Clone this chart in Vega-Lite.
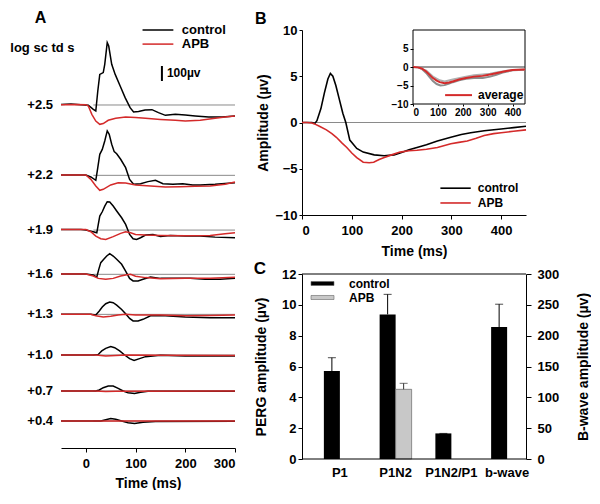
{
"$schema": "https://vega.github.io/schema/vega-lite/v6.json",
"background": "white",
"padding": {"left": 10, "top": 10, "right": 0, "bottom": 0},
"bounds": "flush",
"spacing": 67,
"config": {
  "view": {"stroke": null},
  "font": "Liberation Sans",
  "axis": {"grid": false, "domainColor": "#000", "tickColor": "#000", "labelColor": "#000", "titleColor": "#000", "labelFont": "Liberation Sans", "titleFont": "Liberation Sans", "labelFontSize": 13, "labelFontWeight": "bold", "titleFontSize": 14, "titleFontWeight": "bold", "domainWidth": 1, "tickWidth": 1, "labelOverlap": false},
  "text": {"font": "Liberation Sans", "fontWeight": "bold", "color": "#000"}
},
"datasets": {
  "levels": [
    {"level": "+2.5", "base": 2287}, {"level": "+2.2", "base": 1818}, {"level": "+1.9", "base": 1453}, {"level": "+1.6", "base": 1158},
    {"level": "+1.3", "base": 891}, {"level": "+1.0", "base": 620}, {"level": "+0.7", "base": 380}, {"level": "+0.4", "base": 180}
  ],
  "erg": [
    {"level":"+2.5","series":"control","t":-50,"uv":2291},{"level":"+2.5","series":"control","t":-30,"uv":2294},{"level":"+2.5","series":"control","t":-10,"uv":2289},{"level":"+2.5","series":"control","t":5,"uv":2285},{"level":"+2.5","series":"control","t":15,"uv":2258},{"level":"+2.5","series":"control","t":20,"uv":2247},{"level":"+2.5","series":"control","t":24,"uv":2380},{"level":"+2.5","series":"control","t":28,"uv":2491},{"level":"+2.5","series":"control","t":35,"uv":2503},{"level":"+2.5","series":"control","t":38,"uv":2558},{"level":"+2.5","series":"control","t":43,"uv":2703},{"level":"+2.5","series":"control","t":46,"uv":2680},{"level":"+2.5","series":"control","t":52,"uv":2558},{"level":"+2.5","series":"control","t":59,"uv":2491},{"level":"+2.5","series":"control","t":69,"uv":2414},{"level":"+2.5","series":"control","t":79,"uv":2336},{"level":"+2.5","series":"control","t":89,"uv":2269},{"level":"+2.5","series":"control","t":96,"uv":2240},{"level":"+2.5","series":"control","t":106,"uv":2243},{"level":"+2.5","series":"control","t":119,"uv":2254},{"level":"+2.5","series":"control","t":133,"uv":2256},{"level":"+2.5","series":"control","t":146,"uv":2236},{"level":"+2.5","series":"control","t":160,"uv":2218},{"level":"+2.5","series":"control","t":180,"uv":2225},{"level":"+2.5","series":"control","t":200,"uv":2220},{"level":"+2.5","series":"control","t":220,"uv":2214},{"level":"+2.5","series":"control","t":247,"uv":2207},{"level":"+2.5","series":"control","t":274,"uv":2207},{"level":"+2.5","series":"control","t":300,"uv":2214},
    {"level":"+2.5","series":"APB","t":-50,"uv":2289},{"level":"+2.5","series":"APB","t":-20,"uv":2290},{"level":"+2.5","series":"APB","t":0,"uv":2289},{"level":"+2.5","series":"APB","t":5,"uv":2280},{"level":"+2.5","series":"APB","t":12,"uv":2225},{"level":"+2.5","series":"APB","t":20,"uv":2180},{"level":"+2.5","series":"APB","t":28,"uv":2158},{"level":"+2.5","series":"APB","t":35,"uv":2163},{"level":"+2.5","series":"APB","t":45,"uv":2185},{"level":"+2.5","series":"APB","t":60,"uv":2198},{"level":"+2.5","series":"APB","t":80,"uv":2207},{"level":"+2.5","series":"APB","t":100,"uv":2203},{"level":"+2.5","series":"APB","t":120,"uv":2198},{"level":"+2.5","series":"APB","t":150,"uv":2191},{"level":"+2.5","series":"APB","t":180,"uv":2185},{"level":"+2.5","series":"APB","t":200,"uv":2180},{"level":"+2.5","series":"APB","t":230,"uv":2185},{"level":"+2.5","series":"APB","t":260,"uv":2198},{"level":"+2.5","series":"APB","t":280,"uv":2207},{"level":"+2.5","series":"APB","t":300,"uv":2214},
    {"level":"+2.2","series":"control","t":-50,"uv":1820},{"level":"+2.2","series":"control","t":0,"uv":1820},{"level":"+2.2","series":"control","t":10,"uv":1807},{"level":"+2.2","series":"control","t":20,"uv":1785},{"level":"+2.2","series":"control","t":24,"uv":1869},{"level":"+2.2","series":"control","t":28,"uv":1958},{"level":"+2.2","series":"control","t":33,"uv":1991},{"level":"+2.2","series":"control","t":38,"uv":2047},{"level":"+2.2","series":"control","t":43,"uv":2114},{"level":"+2.2","series":"control","t":47,"uv":2091},{"level":"+2.2","series":"control","t":52,"uv":2025},{"level":"+2.2","series":"control","t":57,"uv":1976},{"level":"+2.2","series":"control","t":62,"uv":1962},{"level":"+2.2","series":"control","t":70,"uv":1925},{"level":"+2.2","series":"control","t":80,"uv":1869},{"level":"+2.2","series":"control","t":88,"uv":1791},{"level":"+2.2","series":"control","t":96,"uv":1758},{"level":"+2.2","series":"control","t":110,"uv":1762},{"level":"+2.2","series":"control","t":125,"uv":1776},{"level":"+2.2","series":"control","t":140,"uv":1785},{"level":"+2.2","series":"control","t":155,"uv":1762},{"level":"+2.2","series":"control","t":175,"uv":1758},{"level":"+2.2","series":"control","t":195,"uv":1762},{"level":"+2.2","series":"control","t":215,"uv":1754},{"level":"+2.2","series":"control","t":230,"uv":1754},{"level":"+2.2","series":"control","t":260,"uv":1758},{"level":"+2.2","series":"control","t":300,"uv":1769},
    {"level":"+2.2","series":"APB","t":-50,"uv":1820},{"level":"+2.2","series":"APB","t":0,"uv":1820},{"level":"+2.2","series":"APB","t":10,"uv":1791},{"level":"+2.2","series":"APB","t":20,"uv":1747},{"level":"+2.2","series":"APB","t":28,"uv":1718},{"level":"+2.2","series":"APB","t":35,"uv":1725},{"level":"+2.2","series":"APB","t":50,"uv":1754},{"level":"+2.2","series":"APB","t":65,"uv":1769},{"level":"+2.2","series":"APB","t":80,"uv":1767},{"level":"+2.2","series":"APB","t":100,"uv":1754},{"level":"+2.2","series":"APB","t":130,"uv":1747},{"level":"+2.2","series":"APB","t":160,"uv":1740},{"level":"+2.2","series":"APB","t":190,"uv":1742},{"level":"+2.2","series":"APB","t":220,"uv":1745},{"level":"+2.2","series":"APB","t":250,"uv":1747},{"level":"+2.2","series":"APB","t":280,"uv":1758},{"level":"+2.2","series":"APB","t":300,"uv":1774},
    {"level":"+1.9","series":"control","t":-50,"uv":1457},{"level":"+1.9","series":"control","t":-10,"uv":1457},{"level":"+1.9","series":"control","t":0,"uv":1453},{"level":"+1.9","series":"control","t":15,"uv":1442},{"level":"+1.9","series":"control","t":22,"uv":1435},{"level":"+1.9","series":"control","t":25,"uv":1491},{"level":"+1.9","series":"control","t":28,"uv":1546},{"level":"+1.9","series":"control","t":33,"uv":1575},{"level":"+1.9","series":"control","t":38,"uv":1613},{"level":"+1.9","series":"control","t":43,"uv":1642},{"level":"+1.9","series":"control","t":48,"uv":1640},{"level":"+1.9","series":"control","t":55,"uv":1613},{"level":"+1.9","series":"control","t":62,"uv":1580},{"level":"+1.9","series":"control","t":72,"uv":1535},{"level":"+1.9","series":"control","t":80,"uv":1491},{"level":"+1.9","series":"control","t":88,"uv":1424},{"level":"+1.9","series":"control","t":95,"uv":1395},{"level":"+1.9","series":"control","t":102,"uv":1391},{"level":"+1.9","series":"control","t":110,"uv":1402},{"level":"+1.9","series":"control","t":120,"uv":1420},{"level":"+1.9","series":"control","t":135,"uv":1424},{"level":"+1.9","series":"control","t":150,"uv":1411},{"level":"+1.9","series":"control","t":170,"uv":1417},{"level":"+1.9","series":"control","t":200,"uv":1413},{"level":"+1.9","series":"control","t":230,"uv":1413},{"level":"+1.9","series":"control","t":260,"uv":1406},{"level":"+1.9","series":"control","t":300,"uv":1402},
    {"level":"+1.9","series":"APB","t":-50,"uv":1457},{"level":"+1.9","series":"APB","t":0,"uv":1457},{"level":"+1.9","series":"APB","t":10,"uv":1442},{"level":"+1.9","series":"APB","t":20,"uv":1413},{"level":"+1.9","series":"APB","t":30,"uv":1395},{"level":"+1.9","series":"APB","t":40,"uv":1391},{"level":"+1.9","series":"APB","t":55,"uv":1409},{"level":"+1.9","series":"APB","t":70,"uv":1431},{"level":"+1.9","series":"APB","t":80,"uv":1442},{"level":"+1.9","series":"APB","t":90,"uv":1435},{"level":"+1.9","series":"APB","t":100,"uv":1424},{"level":"+1.9","series":"APB","t":120,"uv":1420},{"level":"+1.9","series":"APB","t":150,"uv":1417},{"level":"+1.9","series":"APB","t":200,"uv":1415},{"level":"+1.9","series":"APB","t":250,"uv":1417},{"level":"+1.9","series":"APB","t":280,"uv":1429},{"level":"+1.9","series":"APB","t":300,"uv":1435},
    {"level":"+1.6","series":"control","t":-50,"uv":1160},{"level":"+1.6","series":"control","t":0,"uv":1160},{"level":"+1.6","series":"control","t":15,"uv":1154},{"level":"+1.6","series":"control","t":22,"uv":1140},{"level":"+1.6","series":"control","t":26,"uv":1191},{"level":"+1.6","series":"control","t":30,"uv":1236},{"level":"+1.6","series":"control","t":36,"uv":1258},{"level":"+1.6","series":"control","t":42,"uv":1280},{"level":"+1.6","series":"control","t":48,"uv":1296},{"level":"+1.6","series":"control","t":55,"uv":1280},{"level":"+1.6","series":"control","t":62,"uv":1258},{"level":"+1.6","series":"control","t":72,"uv":1225},{"level":"+1.6","series":"control","t":80,"uv":1180},{"level":"+1.6","series":"control","t":88,"uv":1131},{"level":"+1.6","series":"control","t":95,"uv":1114},{"level":"+1.6","series":"control","t":105,"uv":1114},{"level":"+1.6","series":"control","t":115,"uv":1125},{"level":"+1.6","series":"control","t":130,"uv":1140},{"level":"+1.6","series":"control","t":150,"uv":1131},{"level":"+1.6","series":"control","t":180,"uv":1131},{"level":"+1.6","series":"control","t":210,"uv":1131},{"level":"+1.6","series":"control","t":240,"uv":1125},{"level":"+1.6","series":"control","t":270,"uv":1125},{"level":"+1.6","series":"control","t":300,"uv":1131},
    {"level":"+1.6","series":"APB","t":-50,"uv":1160},{"level":"+1.6","series":"APB","t":0,"uv":1160},{"level":"+1.6","series":"APB","t":15,"uv":1147},{"level":"+1.6","series":"APB","t":25,"uv":1131},{"level":"+1.6","series":"APB","t":40,"uv":1125},{"level":"+1.6","series":"APB","t":55,"uv":1131},{"level":"+1.6","series":"APB","t":70,"uv":1147},{"level":"+1.6","series":"APB","t":80,"uv":1154},{"level":"+1.6","series":"APB","t":90,"uv":1158},{"level":"+1.6","series":"APB","t":100,"uv":1145},{"level":"+1.6","series":"APB","t":120,"uv":1136},{"level":"+1.6","series":"APB","t":150,"uv":1129},{"level":"+1.6","series":"APB","t":200,"uv":1131},{"level":"+1.6","series":"APB","t":250,"uv":1131},{"level":"+1.6","series":"APB","t":300,"uv":1138},
    {"level":"+1.3","series":"control","t":-50,"uv":891},{"level":"+1.3","series":"control","t":10,"uv":891},{"level":"+1.3","series":"control","t":20,"uv":887},{"level":"+1.3","series":"control","t":27,"uv":913},{"level":"+1.3","series":"control","t":33,"uv":940},{"level":"+1.3","series":"control","t":40,"uv":962},{"level":"+1.3","series":"control","t":48,"uv":973},{"level":"+1.3","series":"control","t":55,"uv":969},{"level":"+1.3","series":"control","t":62,"uv":953},{"level":"+1.3","series":"control","t":72,"uv":924},{"level":"+1.3","series":"control","t":80,"uv":895},{"level":"+1.3","series":"control","t":88,"uv":864},{"level":"+1.3","series":"control","t":95,"uv":847},{"level":"+1.3","series":"control","t":105,"uv":847},{"level":"+1.3","series":"control","t":115,"uv":858},{"level":"+1.3","series":"control","t":130,"uv":882},{"level":"+1.3","series":"control","t":160,"uv":882},{"level":"+1.3","series":"control","t":200,"uv":873},{"level":"+1.3","series":"control","t":250,"uv":869},{"level":"+1.3","series":"control","t":300,"uv":869},
    {"level":"+1.3","series":"APB","t":-50,"uv":891},{"level":"+1.3","series":"APB","t":10,"uv":891},{"level":"+1.3","series":"APB","t":20,"uv":882},{"level":"+1.3","series":"APB","t":35,"uv":873},{"level":"+1.3","series":"APB","t":50,"uv":878},{"level":"+1.3","series":"APB","t":65,"uv":887},{"level":"+1.3","series":"APB","t":80,"uv":891},{"level":"+1.3","series":"APB","t":100,"uv":887},{"level":"+1.3","series":"APB","t":150,"uv":887},{"level":"+1.3","series":"APB","t":200,"uv":882},{"level":"+1.3","series":"APB","t":250,"uv":884},{"level":"+1.3","series":"APB","t":300,"uv":887},
    {"level":"+1.0","series":"control","t":-50,"uv":620},{"level":"+1.0","series":"control","t":15,"uv":620},{"level":"+1.0","series":"control","t":25,"uv":624},{"level":"+1.0","series":"control","t":32,"uv":647},{"level":"+1.0","series":"control","t":40,"uv":664},{"level":"+1.0","series":"control","t":50,"uv":676},{"level":"+1.0","series":"control","t":58,"uv":669},{"level":"+1.0","series":"control","t":68,"uv":647},{"level":"+1.0","series":"control","t":78,"uv":620},{"level":"+1.0","series":"control","t":88,"uv":596},{"level":"+1.0","series":"control","t":97,"uv":584},{"level":"+1.0","series":"control","t":108,"uv":596},{"level":"+1.0","series":"control","t":120,"uv":609},{"level":"+1.0","series":"control","t":150,"uv":618},{"level":"+1.0","series":"control","t":200,"uv":613},{"level":"+1.0","series":"control","t":300,"uv":613},
    {"level":"+1.0","series":"APB","t":-50,"uv":620},{"level":"+1.0","series":"APB","t":20,"uv":620},{"level":"+1.0","series":"APB","t":40,"uv":613},{"level":"+1.0","series":"APB","t":60,"uv":616},{"level":"+1.0","series":"APB","t":80,"uv":620},{"level":"+1.0","series":"APB","t":150,"uv":618},{"level":"+1.0","series":"APB","t":300,"uv":616},
    {"level":"+0.7","series":"control","t":-50,"uv":380},{"level":"+0.7","series":"control","t":20,"uv":380},{"level":"+0.7","series":"control","t":27,"uv":387},{"level":"+0.7","series":"control","t":35,"uv":402},{"level":"+0.7","series":"control","t":45,"uv":413},{"level":"+0.7","series":"control","t":55,"uv":413},{"level":"+0.7","series":"control","t":65,"uv":398},{"level":"+0.7","series":"control","t":75,"uv":380},{"level":"+0.7","series":"control","t":85,"uv":369},{"level":"+0.7","series":"control","t":98,"uv":364},{"level":"+0.7","series":"control","t":110,"uv":371},{"level":"+0.7","series":"control","t":125,"uv":378},{"level":"+0.7","series":"control","t":300,"uv":378},
    {"level":"+0.7","series":"APB","t":-50,"uv":380},{"level":"+0.7","series":"APB","t":20,"uv":380},{"level":"+0.7","series":"APB","t":40,"uv":376},{"level":"+0.7","series":"APB","t":60,"uv":378},{"level":"+0.7","series":"APB","t":300,"uv":380},
    {"level":"+0.4","series":"control","t":-50,"uv":180},{"level":"+0.4","series":"control","t":30,"uv":180},{"level":"+0.4","series":"control","t":40,"uv":189},{"level":"+0.4","series":"control","t":50,"uv":196},{"level":"+0.4","series":"control","t":60,"uv":191},{"level":"+0.4","series":"control","t":72,"uv":180},{"level":"+0.4","series":"control","t":85,"uv":169},{"level":"+0.4","series":"control","t":98,"uv":164},{"level":"+0.4","series":"control","t":115,"uv":171},{"level":"+0.4","series":"control","t":140,"uv":176},{"level":"+0.4","series":"control","t":300,"uv":178},
    {"level":"+0.4","series":"APB","t":-50,"uv":180},{"level":"+0.4","series":"APB","t":300,"uv":180}
  ],
  "perg": [
    {"series":"control","t":0,"v":0},{"series":"control","t":10,"v":0},{"series":"control","t":20,"v":0},{"series":"control","t":26,"v":-0.1},{"series":"control","t":30,"v":0.2},{"series":"control","t":38,"v":1.5},{"series":"control","t":45,"v":3.2},{"series":"control","t":52,"v":4.7},{"series":"control","t":57,"v":5.3},{"series":"control","t":62,"v":5.0},{"series":"control","t":68,"v":4.0},{"series":"control","t":75,"v":2.5},{"series":"control","t":82,"v":1.0},{"series":"control","t":88,"v":0},{"series":"control","t":96,"v":-1.9},{"series":"control","t":110,"v":-2.8},{"series":"control","t":123,"v":-3.2},{"series":"control","t":145,"v":-3.5},{"series":"control","t":165,"v":-3.6},{"series":"control","t":185,"v":-3.5},{"series":"control","t":200,"v":-3.25},{"series":"control","t":215,"v":-2.95},{"series":"control","t":231,"v":-2.7},{"series":"control","t":250,"v":-2.4},{"series":"control","t":272,"v":-2.0},{"series":"control","t":299,"v":-1.6},{"series":"control","t":320,"v":-1.3},{"series":"control","t":339,"v":-1.1},{"series":"control","t":366,"v":-0.9},{"series":"control","t":400,"v":-0.7},{"series":"control","t":425,"v":-0.55},{"series":"control","t":450,"v":-0.4},
    {"series":"APB","t":0,"v":0},{"series":"APB","t":10,"v":0},{"series":"APB","t":20,"v":-0.05},{"series":"APB","t":25,"v":-0.15},{"series":"APB","t":35,"v":-0.4},{"series":"APB","t":49,"v":-0.8},{"series":"APB","t":60,"v":-1.2},{"series":"APB","t":69,"v":-1.6},{"series":"APB","t":80,"v":-2.2},{"series":"APB","t":90,"v":-2.7},{"series":"APB","t":100,"v":-3.3},{"series":"APB","t":110,"v":-3.8},{"series":"APB","t":123,"v":-4.3},{"series":"APB","t":135,"v":-4.35},{"series":"APB","t":144,"v":-4.3},{"series":"APB","t":155,"v":-4.0},{"series":"APB","t":164,"v":-3.8},{"series":"APB","t":180,"v":-3.5},{"series":"APB","t":197,"v":-3.2},{"series":"APB","t":215,"v":-3.05},{"series":"APB","t":231,"v":-3.0},{"series":"APB","t":250,"v":-2.9},{"series":"APB","t":272,"v":-2.7},{"series":"APB","t":299,"v":-2.3},{"series":"APB","t":315,"v":-2.15},{"series":"APB","t":332,"v":-2.0},{"series":"APB","t":350,"v":-1.7},{"series":"APB","t":366,"v":-1.4},{"series":"APB","t":385,"v":-1.2},{"series":"APB","t":400,"v":-1.1},{"series":"APB","t":425,"v":-0.95},{"series":"APB","t":450,"v":-0.8}
  ],
  "avg": [
    {"series":"lower","t":0,"v":0},{"series":"lower","t":20,"v":-0.1},{"series":"lower","t":35,"v":-0.5},{"series":"lower","t":53,"v":-1.6},{"series":"lower","t":65,"v":-2.6},{"series":"lower","t":80,"v":-3.8},{"series":"lower","t":95,"v":-4.6},{"series":"lower","t":110,"v":-5.0},{"series":"lower","t":127,"v":-4.9},{"series":"lower","t":145,"v":-4.5},{"series":"lower","t":160,"v":-4.1},{"series":"lower","t":185,"v":-3.6},{"series":"lower","t":213,"v":-3.2},{"series":"lower","t":245,"v":-3.0},{"series":"lower","t":280,"v":-3.0},{"series":"lower","t":310,"v":-2.6},{"series":"lower","t":335,"v":-2.1},{"series":"lower","t":360,"v":-1.5},{"series":"lower","t":400,"v":-0.9},{"series":"lower","t":450,"v":-0.75},
    {"series":"upper","t":0,"v":0},{"series":"upper","t":20,"v":-0.05},{"series":"upper","t":53,"v":-1.0},{"series":"upper","t":80,"v":-2.6},{"series":"upper","t":107,"v":-3.6},{"series":"upper","t":127,"v":-3.9},{"series":"upper","t":160,"v":-3.4},{"series":"upper","t":213,"v":-2.6},{"series":"upper","t":245,"v":-2.2},{"series":"upper","t":280,"v":-2.0},{"series":"upper","t":310,"v":-1.8},{"series":"upper","t":340,"v":-1.4},{"series":"upper","t":400,"v":-0.8},{"series":"upper","t":450,"v":-0.65},
    {"series":"average","t":0,"v":0},{"series":"average","t":20,"v":-0.1},{"series":"average","t":35,"v":-0.4},{"series":"average","t":53,"v":-1.2},{"series":"average","t":65,"v":-2.0},{"series":"average","t":80,"v":-3.0},{"series":"average","t":95,"v":-3.7},{"series":"average","t":107,"v":-4.1},{"series":"average","t":127,"v":-4.4},{"series":"average","t":145,"v":-4.2},{"series":"average","t":160,"v":-3.9},{"series":"average","t":185,"v":-3.4},{"series":"average","t":213,"v":-3.0},{"series":"average","t":245,"v":-2.6},{"series":"average","t":280,"v":-2.4},{"series":"average","t":310,"v":-2.0},{"series":"average","t":347,"v":-1.5},{"series":"average","t":375,"v":-1.1},{"series":"average","t":400,"v":-0.8},{"series":"average","t":425,"v":-0.75},{"series":"average","t":450,"v":-0.7}
  ],
  "bars": [
    {"measure":"P1","group":"control","value":5.71,"upper":6.57},
    {"measure":"P1N2","group":"control","value":9.38,"upper":10.68},
    {"measure":"P1N2","group":"APB","value":4.52,"upper":4.91},
    {"measure":"P1N2/P1","group":"control","value":1.66,"upper":1.66}
  ],
  "bwave": [
    {"measure":"b-wave","group":"control","value":214,"upper":251}
  ]
},
"hconcat": [
  {
    "width": 174, "height": 418,
    "layer": [
      {"data": {"name": "levels"}, "mark": {"type": "rule", "color": "#8a8a8a", "strokeWidth": 1},
       "encoding": {"y": {"field": "base", "type": "quantitative", "scale": {"domain": [0, 2787], "nice": false, "zero": false}, "axis": null}, "x": {"datum": 15, "type": "quantitative"}, "x2": {"datum": 300}}},
      {"data": {"name": "levels"}, "mark": {"type": "text", "align": "right", "baseline": "middle", "fontSize": 13},
       "encoding": {"y": {"field": "base", "type": "quantitative", "axis": null}, "x": {"datum": -66, "type": "quantitative"}, "text": {"field": "level"}}},
      {"data": {"name": "erg"}, "transform": [{"filter": "datum.series === 'control'"}], "mark": {"type": "line", "color": "#000", "strokeWidth": 1.5},
       "encoding": {"x": {"field": "t", "type": "quantitative", "scale": {"domain": [-50, 300], "nice": false, "zero": false}, "axis": {"values": [0, 100, 200, 300], "title": "Time (ms)", "tickSize": 4, "labelPadding": 5, "titlePadding": 6}},
                    "y": {"field": "uv", "type": "quantitative", "axis": null}, "detail": {"field": "level"}}},
      {"data": {"name": "erg"}, "transform": [{"filter": "datum.series === 'APB'"}], "mark": {"type": "line", "color": "#d42a2a", "strokeWidth": 1.5},
       "encoding": {"x": {"field": "t", "type": "quantitative"}, "y": {"field": "uv", "type": "quantitative", "axis": null}, "detail": {"field": "level"}}},
      {"data": {"values": [{}]}, "mark": {"type": "rule", "color": "#000", "strokeWidth": 1.5},
       "encoding": {"x": {"datum": 114, "type": "quantitative"}, "x2": {"datum": 176}, "y": {"datum": 2787, "type": "quantitative", "axis": null}}},
      {"data": {"values": [{}]}, "mark": {"type": "rule", "color": "#d42a2a", "strokeWidth": 1.5},
       "encoding": {"x": {"datum": 114, "type": "quantitative"}, "x2": {"datum": 176}, "y": {"datum": 2693, "type": "quantitative", "axis": null}}},
      {"data": {"values": [{}]}, "mark": {"type": "text", "align": "left", "baseline": "middle", "fontSize": 13, "text": "control"},
       "encoding": {"x": {"datum": 193, "type": "quantitative"}, "y": {"datum": 2787, "type": "quantitative", "axis": null}}},
      {"data": {"values": [{}]}, "mark": {"type": "text", "align": "left", "baseline": "middle", "fontSize": 13, "text": "APB"},
       "encoding": {"x": {"datum": 193, "type": "quantitative"}, "y": {"datum": 2693, "type": "quantitative", "axis": null}}},
      {"data": {"values": [{}]}, "mark": {"type": "rule", "color": "#000", "strokeWidth": 2},
       "encoding": {"x": {"datum": 153, "type": "quantitative"}, "y": {"datum": 2447, "type": "quantitative", "axis": null}, "y2": {"datum": 2547}}},
      {"data": {"values": [{}]}, "mark": {"type": "text", "align": "left", "baseline": "middle", "fontSize": 12, "text": "100µv"},
       "encoding": {"x": {"datum": 163, "type": "quantitative"}, "y": {"datum": 2500, "type": "quantitative", "axis": null}}},
      {"data": {"values": [{}]}, "mark": {"type": "text", "align": "left", "baseline": "middle", "fontSize": 13, "text": "log sc td s"},
       "encoding": {"x": {"datum": -152, "type": "quantitative"}, "y": {"datum": 2667, "type": "quantitative", "axis": null}}},
      {"data": {"values": [{}]}, "mark": {"type": "text", "align": "center", "baseline": "middle", "fontSize": 16, "text": "A"},
       "encoding": {"x": {"datum": -91, "type": "quantitative"}, "y": {"datum": 2867, "type": "quantitative", "axis": null}}}
    ]
  },
  {
    "vconcat": [
      {
        "width": 224, "height": 185,
        "layer": [
          {
            "layer": [
              {"data": {"values": [{}]}, "mark": {"type": "rule", "color": "#8a8a8a", "strokeWidth": 1},
               "encoding": {"y": {"datum": 0, "type": "quantitative"}}},
              {"data": {"name": "perg"}, "transform": [{"filter": "datum.series === 'control'"}], "mark": {"type": "line", "color": "#000", "strokeWidth": 1.6},
               "encoding": {"x": {"field": "t", "type": "quantitative", "scale": {"domain": [0, 450], "nice": false, "zero": false}, "axis": {"values": [0, 100, 200, 300, 400], "tickCount": 10, "title": "Time (ms)", "tickSize": 4, "labelPadding": 5, "titlePadding": 7}},
                            "y": {"field": "v", "type": "quantitative", "scale": {"domain": [-10, 10], "nice": false, "zero": false}, "axis": {"values": [-10, -5, 0, 5, 10], "tickCount": 10, "title": "Amplitude (µv)", "tickSize": 3, "labelPadding": 2, "titlePadding": 4}}}},
              {"data": {"name": "perg"}, "transform": [{"filter": "datum.series === 'APB'"}], "mark": {"type": "line", "color": "#d42a2a", "strokeWidth": 1.6},
               "encoding": {"x": {"field": "t", "type": "quantitative"}, "y": {"field": "v", "type": "quantitative"}}},
              {"data": {"values": [{}]}, "mark": {"type": "rule", "color": "#000", "strokeWidth": 1.6},
               "encoding": {"x": {"datum": 278, "type": "quantitative"}, "x2": {"datum": 339}, "y": {"datum": -7.1, "type": "quantitative"}}},
              {"data": {"values": [{}]}, "mark": {"type": "rule", "color": "#d42a2a", "strokeWidth": 1.6},
               "encoding": {"x": {"datum": 278, "type": "quantitative"}, "x2": {"datum": 339}, "y": {"datum": -8.7, "type": "quantitative"}}},
              {"data": {"values": [{}]}, "mark": {"type": "text", "align": "left", "baseline": "middle", "fontSize": 12, "text": "control"},
               "encoding": {"x": {"datum": 353, "type": "quantitative"}, "y": {"datum": -7.1, "type": "quantitative"}}},
              {"data": {"values": [{}]}, "mark": {"type": "text", "align": "left", "baseline": "middle", "fontSize": 12, "text": "APB"},
               "encoding": {"x": {"datum": 353, "type": "quantitative"}, "y": {"datum": -8.7, "type": "quantitative"}}},
              {"data": {"values": [{}]}, "mark": {"type": "text", "align": "center", "baseline": "middle", "fontSize": 16, "text": "B"},
               "encoding": {"x": {"datum": -83, "type": "quantitative"}, "y": {"datum": 11.2, "type": "quantitative"}}}
            ]
          },
          {
            "layer": [
              {"data": {"values": [{}]}, "mark": {"type": "rect", "fill": "white", "stroke": "#000", "strokeWidth": 1},
               "encoding": {"x": {"datum": 0, "type": "quantitative", "scale": {"domain": [0, 450], "range": [111, 223], "nice": false, "zero": false},
                                  "axis": {"orient": "bottom", "offset": -111, "values": [0, 100, 200, 300, 400], "tickCount": 10, "title": null, "domain": false, "tickSize": 2, "labelFontSize": 10, "labelPadding": 1, "zindex": 1}},
                            "x2": {"datum": 450},
                            "y": {"datum": -10, "type": "quantitative", "scale": {"domain": [-10, 10], "range": [74, 0], "nice": false, "zero": false},
                                  "axis": {"orient": "left", "offset": -111, "values": [-10, -5, 0, 5], "tickCount": 10, "title": null, "domain": false, "tickSize": 3, "labelFontSize": 10, "labelPadding": 2, "zindex": 1}},
                            "y2": {"datum": 10}}},
              {"data": {"values": [{}]}, "mark": {"type": "rule", "color": "#333", "strokeWidth": 1},
               "encoding": {"x": {"datum": 0, "type": "quantitative"}, "x2": {"datum": 450}, "y": {"datum": 0, "type": "quantitative"}}},
              {"data": {"name": "avg"}, "transform": [{"filter": "datum.series === 'lower'"}], "mark": {"type": "line", "color": "#8c8c8c", "strokeWidth": 2},
               "encoding": {"x": {"field": "t", "type": "quantitative"}, "y": {"field": "v", "type": "quantitative"}}},
              {"data": {"name": "avg"}, "transform": [{"filter": "datum.series === 'upper'"}], "mark": {"type": "line", "color": "#b0b0b0", "strokeWidth": 2},
               "encoding": {"x": {"field": "t", "type": "quantitative"}, "y": {"field": "v", "type": "quantitative"}}},
              {"data": {"name": "avg"}, "transform": [{"filter": "datum.series === 'average'"}], "mark": {"type": "line", "color": "#d42a2a", "strokeWidth": 2},
               "encoding": {"x": {"field": "t", "type": "quantitative"}, "y": {"field": "v", "type": "quantitative"}}},
              {"data": {"values": [{}]}, "mark": {"type": "rule", "color": "#d42a2a", "strokeWidth": 2},
               "encoding": {"x": {"datum": 129, "type": "quantitative"}, "x2": {"datum": 237}, "y": {"datum": -7.6, "type": "quantitative"}}},
              {"data": {"values": [{}]}, "mark": {"type": "text", "align": "left", "baseline": "middle", "fontSize": 12, "text": "average"},
               "encoding": {"x": {"datum": 261, "type": "quantitative"}, "y": {"datum": -7.6, "type": "quantitative"}}}
            ]
          }
        ],
        "resolve": {"scale": {"x": "independent", "y": "independent"}}
      },
      {
        "width": 224, "height": 185,
        "layer": [
          {
            "data": {"name": "bars"},
            "layer": [
              {"transform": [{"filter": "datum.group === 'control'"}],
               "mark": {"type": "bar", "width": 16, "xOffset": -8},
               "encoding": {
                 "x": {"field": "measure", "type": "nominal", "scale": {"domain": ["P1", "P1N2", "P1N2/P1", "b-wave"], "range": [10, 233], "paddingInner": 0.425, "paddingOuter": 0.2125}, "axis": {"title": null, "labelAngle": 0, "ticks": false, "domain": false, "labelPadding": 7}},
                 "y": {"field": "value", "type": "quantitative", "scale": {"domain": [0, 12], "nice": false}, "axis": {"orient": "left", "values": [0, 2, 4, 6, 8, 10, 12], "tickCount": 14, "labelOverlap": false, "title": "PERG amplitude (µv)", "tickSize": 4, "labelPadding": 2, "titlePadding": 13}},
                 "color": {"field": "group", "type": "nominal", "scale": {"domain": ["control", "APB"], "range": ["#000000", "#c8c8c8"]},
                           "legend": {"title": null, "orient": "none", "legendX": 255, "legendY": 247, "direction": "vertical", "symbolType": "M-2,-0.35H2V0.35H-2Z", "symbolSize": 132, "symbolStrokeColor": "#555", "symbolStrokeWidth": 0.6, "labelFontSize": 12, "labelFontWeight": "bold", "labelColor": "#000", "labelFont": "Liberation Sans", "rowPadding": 1, "labelOffset": 20, "padding": 0}}
               }},
              {"transform": [{"filter": "datum.group === 'APB'"}],
               "mark": {"type": "bar", "width": 16, "xOffset": 8, "stroke": "#666", "strokeWidth": 0.7},
               "encoding": {"x": {"field": "measure", "type": "nominal"}, "y": {"field": "value", "type": "quantitative"}, "color": {"field": "group", "type": "nominal"}}},
              {"transform": [{"filter": "datum.group === 'control'"}],
               "mark": {"type": "rule", "color": "#000", "strokeWidth": 1, "xOffset": -8},
               "encoding": {"x": {"field": "measure", "type": "nominal"}, "y": {"field": "value", "type": "quantitative"}, "y2": {"field": "upper"}}},
              {"transform": [{"filter": "datum.group === 'APB'"}],
               "mark": {"type": "rule", "color": "#333", "strokeWidth": 1, "xOffset": 8},
               "encoding": {"x": {"field": "measure", "type": "nominal"}, "y": {"field": "value", "type": "quantitative"}, "y2": {"field": "upper"}}},
              {"transform": [{"filter": "datum.group === 'control'"}],
               "mark": {"type": "tick", "color": "#000", "thickness": 1, "size": 8, "xOffset": -8},
               "encoding": {"x": {"field": "measure", "type": "nominal"}, "y": {"field": "upper", "type": "quantitative"}}},
              {"transform": [{"filter": "datum.group === 'APB'"}],
               "mark": {"type": "tick", "color": "#333", "thickness": 1, "size": 8, "xOffset": 8},
               "encoding": {"x": {"field": "measure", "type": "nominal"}, "y": {"field": "upper", "type": "quantitative"}}},
              {"data": {"values": [{}]}, "mark": {"type": "rule", "color": "#000", "strokeWidth": 1},
               "encoding": {"y": {"datum": 0, "type": "quantitative"}}},
              {"data": {"values": [{}]}, "mark": {"type": "rule", "color": "#000", "strokeWidth": 1},
               "encoding": {"y": {"datum": 12, "type": "quantitative"}}},
              {"data": {"values": [{}]}, "mark": {"type": "text", "align": "center", "baseline": "middle", "fontSize": 17, "text": "C", "dx": -80},
               "encoding": {"x": {"datum": "P1", "type": "nominal"}, "y": {"datum": 12.35, "type": "quantitative"}}}
            ]
          },
          {
            "data": {"name": "bwave"},
            "layer": [
              {"mark": {"type": "bar", "width": 16, "xOffset": -8},
               "encoding": {
                 "x": {"field": "measure", "type": "nominal"},
                 "y": {"field": "value", "type": "quantitative", "scale": {"domain": [0, 300], "nice": false}, "axis": {"orient": "right", "values": [0, 50, 100, 150, 200, 250, 300], "tickCount": 14, "labelOverlap": false, "title": "B-wave amplitude (µv)", "tickSize": 5, "labelPadding": 6, "titlePadding": 18, "titleAngle": 270, "titleBaseline": "top"}},
                 "color": {"field": "group", "type": "nominal"}
               }},
              {"mark": {"type": "rule", "color": "#000", "strokeWidth": 1, "xOffset": -8},
               "encoding": {"x": {"field": "measure", "type": "nominal"}, "y": {"field": "value", "type": "quantitative"}, "y2": {"field": "upper"}}},
              {"mark": {"type": "tick", "color": "#000", "thickness": 1, "size": 8, "xOffset": -8},
               "encoding": {"x": {"field": "measure", "type": "nominal"}, "y": {"field": "upper", "type": "quantitative"}}}
            ]
          }
        ],
        "resolve": {"scale": {"y": "independent"}}
      }
    ],
    "spacing": 59,
    "bounds": "flush"
  }
]
}
